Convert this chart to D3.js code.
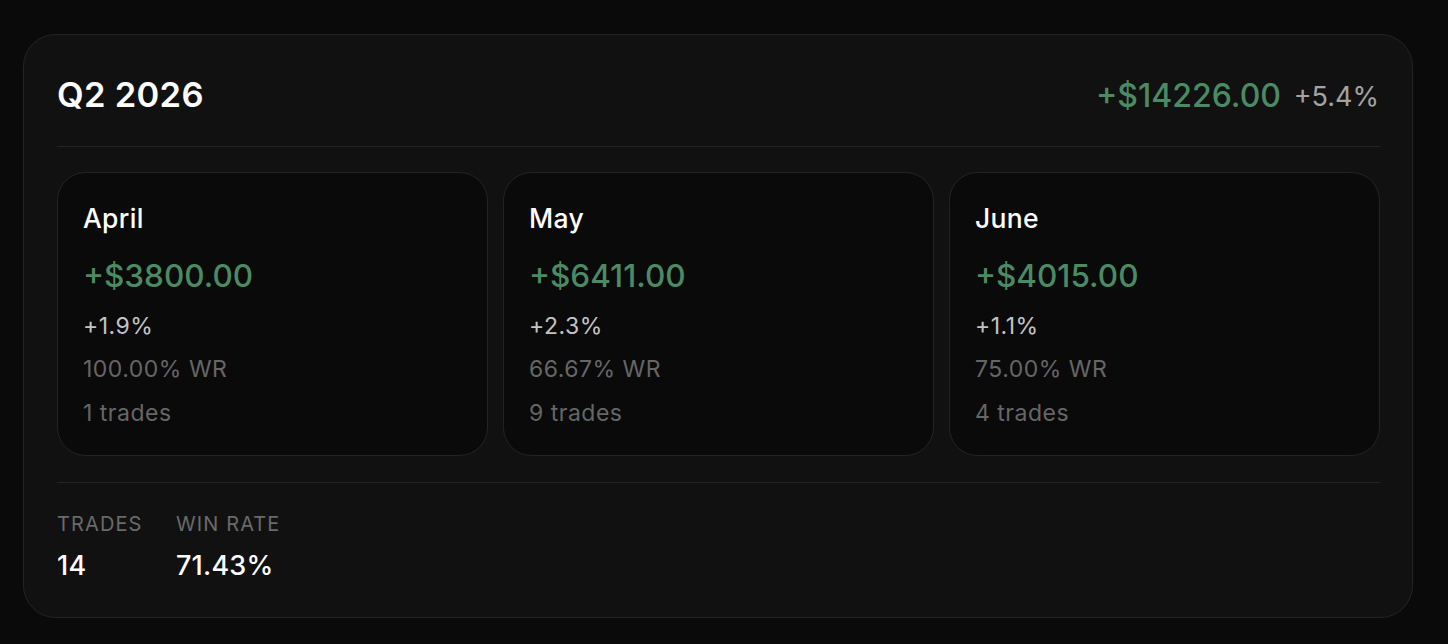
<!DOCTYPE html>
<html>
<head>
<meta charset="utf-8">
<script src="https://cdn.jsdelivr.net/npm/d3@7"></script>
<style>
  html, body { margin: 0; padding: 0; background: #0a0a0a; }
  svg { display: block; font-family: Inter, "Noto Sans", sans-serif; }
</style>
</head>
<body>
<script>
// quarter data
var quarter = "Q2 2026";
var totalPnl = 14226;
var totalPct = 5.4;
var totalTrades = 14;
var totalWinRate = 71.43;

// per-month data
var months = ["April", "May", "June"];
var monthPnl = [3800, 6411, 4015];
var monthPct = [1.9, 2.3, 1.1];
var monthWinRate = [100, 66.67, 75];
var monthTrades = [1, 9, 4];

function init() {
    var w = 1448;
    var h = 644;
    var green = "#4b8b64";

    var svg = d3.select("body")
        .append("svg")
        .attr("width", w)
        .attr("height", h);

    var money = d => (d >= 0 ? "+$" : "-$") + d3.format(".2f")(Math.abs(d));
    var pct = d => (d >= 0 ? "+" : "") + d3.format(".1f")(d) + "%";

    // outer card
    svg.append("rect")
        .attr("x", 23.5).attr("y", 34.5)
        .attr("width", 1389).attr("height", 583)
        .attr("rx", 32)
        .attr("fill", "#111111")
        .attr("stroke", "#242426");

    // header
    svg.append("text")
        .attr("x", 57).attr("y", 107)
        .attr("fill", "#ffffff")
        .attr("font-size", 34.5)
        .attr("font-weight", 600)
        .attr("letter-spacing", 0.3)
        .text(quarter);

    svg.append("text")
        .attr("x", 1379).attr("y", 106)
        .attr("text-anchor", "end")
        .attr("fill", "#a3a3a3")
        .attr("font-size", 27)
        .text(pct(totalPct));

    svg.append("text")
        .attr("x", 1281).attr("y", 107)
        .attr("text-anchor", "end")
        .attr("fill", green)
        .attr("font-size", 32)
        .attr("font-weight", 500)
        .text(money(totalPnl));

    // separators
    [146, 482].forEach(y => {
        svg.append("line")
            .attr("x1", 57).attr("x2", 1380)
            .attr("y1", y + 0.5).attr("y2", y + 0.5)
            .attr("stroke", "#242426");
    });

    // month cards
    var x = d3.scaleBand()
        .domain(months)
        .range([57, 1380])
        .paddingInner(0.0336);

    var cards = svg.selectAll("g.card")
        .data(months)
        .enter()
        .append("g")
        .attr("class", "card")
        .attr("transform", d => "translate(" + x(d) + ",172)");

    cards.append("rect")
        .attr("x", 0.5).attr("y", 0.5)
        .attr("width", x.bandwidth() - 1)
        .attr("height", 283)
        .attr("rx", 28)
        .attr("fill", "#0a0a0a")
        .attr("stroke", "#242426");

    cards.append("text")
        .attr("x", 26).attr("y", 56)
        .attr("fill", "#ffffff")
        .attr("font-size", 26.5)
        .attr("font-weight", 500)
        .attr("letter-spacing", 0.3)
        .text(d => d);

    cards.append("text")
        .attr("x", 26).attr("y", 115)
        .attr("fill", green)
        .attr("font-size", 31.5)
        .attr("font-weight", 500)
        .text((d, i) => money(monthPnl[i]));

    var small = [
        { y: 162, fill: "#c4c4c4", text: i => pct(monthPct[i]) },
        { y: 205, fill: "#666666", text: i => d3.format(".2f")(monthWinRate[i]) + "% WR" },
        { y: 249, fill: "#666666", text: i => monthTrades[i] + " trades" }
    ];

    small.forEach(s => {
        cards.append("text")
            .attr("x", 26).attr("y", s.y)
            .attr("fill", s.fill)
            .attr("font-size", 23)
            .attr("letter-spacing", 0.5)
            .text((d, i) => s.text(i));
    });

    // footer stats
    var stats = [
        { label: "TRADES", value: String(totalTrades), x: 57 },
        { label: "WIN RATE", value: d3.format(".2f")(totalWinRate) + "%", x: 176 }
    ];

    var foot = svg.selectAll("g.stat")
        .data(stats)
        .enter()
        .append("g")
        .attr("class", "stat");

    foot.append("text")
        .attr("x", d => d.x).attr("y", 531)
        .attr("fill", "#6a6a6a")
        .attr("font-size", 20)
        .attr("letter-spacing", 1.1)
        .text(d => d.label);

    foot.append("text")
        .attr("x", d => d.x).attr("y", 575)
        .attr("fill", "#ffffff")
        .attr("font-size", 27)
        .attr("font-weight", 500)
        .attr("letter-spacing", 0.2)
        .text(d => d.value);
}

window.onload = init;
</script>
</body>
</html>
